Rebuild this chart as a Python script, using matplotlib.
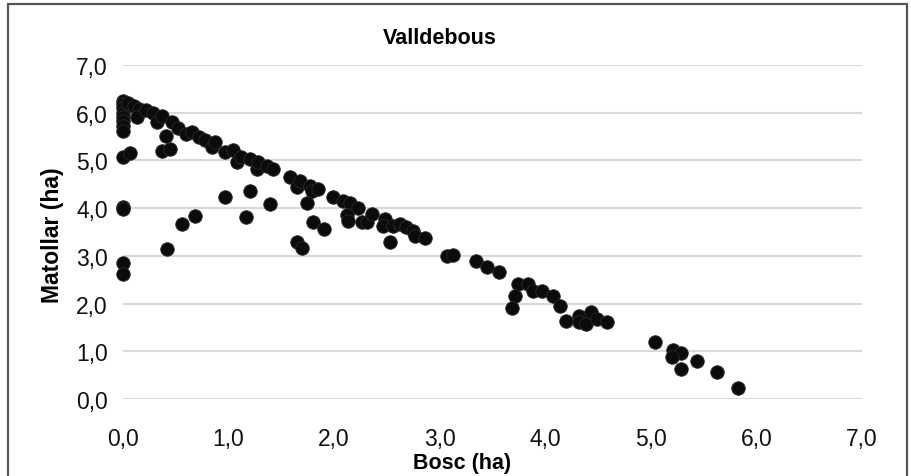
import matplotlib
matplotlib.use("Agg")
import matplotlib.pyplot as plt
from matplotlib.patches import Rectangle

plt.rcParams["font.family"] = ["Liberation Sans", "DejaVu Sans"]

# Bosc (ha) vs Matollar (ha)
bosc = [
    0.00, 0.00, 0.00, 0.00, 0.00, 0.00, 0.00, 0.00, 0.00, 0.07, 0.00, 0.00, 0.00, 0.00,
    0.05, 0.10, 0.15, 0.13, 0.22, 0.28, 0.32, 0.37, 0.46, 0.41, 0.52, 0.60, 0.65, 0.72,
    0.78, 0.84, 0.87, 0.97, 1.04, 1.08, 1.12, 1.20, 1.27, 1.28, 1.36, 1.42, 1.58, 1.65,
    1.68, 1.77, 1.79, 1.85, 1.99, 2.08, 2.15, 2.23, 2.12, 2.13, 2.26, 2.31, 2.36, 2.48,
    2.46, 2.56, 2.62, 2.68, 2.75, 2.77, 2.86, 3.07, 3.13, 3.34, 3.45, 3.56, 3.74, 3.84,
    3.71, 3.69, 3.88, 3.97, 4.07, 4.14, 4.20, 4.32, 4.32, 4.39, 4.43, 4.49, 4.59, 5.04,
    5.21, 5.29, 5.20, 5.29, 5.44, 5.63, 5.83,
    0.37, 0.45, 0.42, 0.56, 0.68, 0.97, 1.20, 1.17, 1.39, 1.65, 1.70, 1.74, 1.80, 1.90,
    2.53,
]
matollar = [
    6.25, 6.18, 6.10, 6.00, 5.92, 5.82, 5.72, 5.62, 5.08, 5.15, 4.02, 3.98, 2.85, 2.62,
    6.20, 6.15, 6.08, 5.92, 6.05, 6.00, 5.80, 5.93, 5.80, 5.52, 5.68, 5.55, 5.60, 5.50,
    5.42, 5.28, 5.38, 5.18, 5.22, 4.97, 5.08, 5.03, 4.82, 4.97, 4.88, 4.82, 4.65, 4.45,
    4.57, 4.47, 4.36, 4.40, 4.23, 4.15, 4.10, 4.00, 3.85, 3.74, 3.71, 3.71, 3.88, 3.77,
    3.62, 3.63, 3.66, 3.60, 3.52, 3.42, 3.37, 3.00, 3.02, 2.90, 2.77, 2.66, 2.41, 2.41,
    2.15, 1.91, 2.27, 2.27, 2.16, 1.95, 1.63, 1.74, 1.62, 1.57, 1.82, 1.67, 1.62, 1.20,
    1.03, 0.96, 0.88, 0.63, 0.80, 0.57, 0.23,
    5.20, 5.24, 3.14, 3.67, 3.84, 4.23, 4.36, 3.82, 4.09, 3.29, 3.16, 4.10, 3.70, 3.56,
    3.29,
]

ticks = [0, 1, 2, 3, 4, 5, 6, 7]
tick_labels = ["0,0", "1,0", "2,0", "3,0", "4,0", "5,0", "6,0", "7,0"]

fig = plt.figure(figsize=(9.11, 4.77), dpi=100)
ax = fig.add_axes([0.135, 0.1614, 0.811, 0.7002])

ax.scatter(bosc, matollar, s=95, color="#0b0b0b", edgecolors="#2a2a2a",
           linewidths=0.6, zorder=3, clip_on=False)

ax.set_xlim(0, 7)
ax.set_ylim(0, 7)
ax.set_xticks(ticks)
ax.set_xticklabels(tick_labels)
ax.set_yticks(ticks)
ax.set_yticklabels(tick_labels)
ax.tick_params(length=0, labelsize=16.5, colors="#111111")
ax.tick_params(axis="x", pad=20)
ax.tick_params(axis="y", pad=11)
ax.grid(axis="y", color="#d9d9d9", linewidth=1.5)
ax.set_axisbelow(True)
for sp in ax.spines.values():
    sp.set_visible(False)

ax.set_title("Valldebous", fontsize=15.5, fontweight="bold", x=0.429, y=1.042)
ax.set_xlabel("Bosc (ha)", fontsize=15.5, fontweight="bold")
ax.xaxis.set_label_coords(0.459, -0.16)
ax.set_ylabel("Matollar (ha)", fontsize=16.5, fontweight="bold")
ax.yaxis.set_label_coords(-0.08, 0.494)

# outer frame (bottom edge runs off the picture)
fig.add_artist(Rectangle((8 / 911, -0.05), 899 / 911, 1.05 - 5 / 477,
                         transform=fig.transFigure, fill=False,
                         edgecolor="#555555", linewidth=1.6))

fig.savefig("out.png", dpi=100)
